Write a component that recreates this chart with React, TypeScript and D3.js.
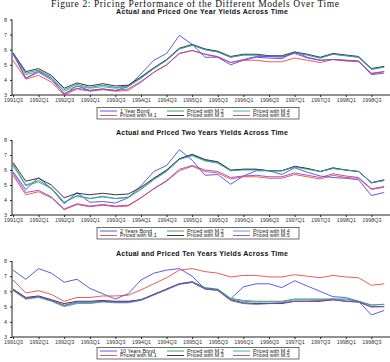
import React, { useEffect, useRef } from 'react'
import * as d3 from 'd3'

// quarters on the x axis
const quarters = [
  '1991Q3', '1991Q4',
  '1992Q1', '1992Q2', '1992Q3', '1992Q4',
  '1993Q1', '1993Q2', '1993Q3', '1993Q4',
  '1994Q1', '1994Q2', '1994Q3', '1994Q4',
  '1995Q1', '1995Q2', '1995Q3', '1995Q4',
  '1996Q1', '1996Q2', '1996Q3', '1996Q4',
  '1997Q1', '1997Q2', '1997Q3', '1997Q4',
  '1998Q1', '1998Q2', '1998Q3', '1998Q4',
]
const yTicks = [3, 4, 5, 6, 7, 8]
const modelNames = ['Priced with M.1', 'Priced with M.2', 'Priced with M.3', 'Priced with M.4', 'Priced with M.5']

// one year yields
const oneYearBond = [5.8, 4.1, 4.6, 4.1, 3.05, 3.6, 3.3, 3.4, 3.3, 3.55, 4.4, 5.3, 5.75, 6.95, 6.35, 5.5, 5.5, 5.0, 5.3, 5.5, 5.45, 5.4, 5.85, 5.5, 5.3, 5.35, 5.3, 5.25, 4.35, 4.45]
const oneYearM1 = [5.3, 4.05, 4.3, 3.85, 3.0, 3.4, 3.25, 3.35, 3.25, 3.3, 3.85, 4.5, 5.0, 5.75, 5.95, 5.7, 5.5, 5.15, 5.3, 5.3, 5.2, 5.2, 5.45, 5.3, 5.15, 5.35, 5.25, 5.2, 4.45, 4.55]
const oneYearM2 = [5.75, 4.45, 4.65, 4.2, 3.35, 3.7, 3.5, 3.65, 3.5, 3.6, 4.15, 4.75, 5.3, 6.05, 6.3, 6.0, 5.85, 5.5, 5.65, 5.65, 5.55, 5.55, 5.8, 5.65, 5.45, 5.7, 5.6, 5.5, 4.7, 4.85]
const oneYearM3 = [5.8, 4.55, 4.75, 4.3, 3.45, 3.8, 3.6, 3.75, 3.6, 3.65, 4.2, 4.8, 5.35, 6.1, 6.35, 6.05, 5.9, 5.55, 5.7, 5.7, 5.6, 5.6, 5.85, 5.7, 5.5, 5.75, 5.65, 5.55, 4.75, 4.9]
const oneYearM4 = [5.75, 4.35, 4.55, 4.1, 3.25, 3.6, 3.45, 3.55, 3.45, 3.55, 4.1, 4.75, 5.3, 6.05, 6.3, 6.0, 5.85, 5.5, 5.65, 5.65, 5.55, 5.55, 5.8, 5.65, 5.45, 5.7, 5.6, 5.5, 4.7, 4.85]
const oneYearM5 = [5.7, 4.12, 4.5, 4.0, 3.1, 3.45, 3.3, 3.4, 3.3, 3.4, 3.9, 4.5, 5.0, 5.75, 5.95, 5.7, 5.55, 5.15, 5.35, 5.55, 5.55, 5.5, 5.75, 5.45, 5.3, 5.35, 5.3, 5.25, 4.4, 4.55]

// two year yields
const twoYearBond = [5.9, 4.7, 5.5, 4.75, 3.75, 4.5, 3.85, 3.9, 3.8, 4.15, 4.95, 5.9, 6.3, 7.35, 6.65, 5.65, 5.7, 5.05, 5.6, 5.95, 5.95, 5.7, 6.15, 5.85, 5.6, 5.5, 5.45, 5.35, 4.3, 4.5]
const twoYearM1 = [5.65, 4.35, 4.55, 4.15, 3.35, 3.7, 3.55, 3.65, 3.55, 3.6, 4.15, 4.75, 5.25, 5.95, 6.25, 5.9, 5.8, 5.4, 5.55, 5.55, 5.45, 5.45, 5.7, 5.55, 5.4, 5.65, 5.5, 5.45, 4.7, 4.85]
const twoYearM2 = [6.4, 5.0, 5.3, 4.8, 3.85, 4.3, 4.1, 4.25, 4.1, 4.2, 4.75, 5.4, 5.95, 6.75, 7.0, 6.65, 6.5, 5.95, 6.05, 6.05, 5.95, 5.95, 6.2, 6.1, 5.9, 6.1, 6.0, 5.9, 5.15, 5.3]
const twoYearM3 = [6.5, 5.25, 5.45, 5.0, 4.15, 4.45, 4.35, 4.45, 4.35, 4.4, 4.85, 5.45, 6.0, 6.75, 7.05, 6.7, 6.55, 6.0, 6.05, 6.05, 5.95, 5.95, 6.25, 6.1, 5.9, 6.15, 6.0, 5.9, 5.15, 5.35]
const twoYearM4 = [6.3, 4.95, 5.2, 4.75, 3.85, 4.25, 4.1, 4.2, 4.1, 4.15, 4.7, 5.35, 5.9, 6.7, 6.95, 6.6, 6.45, 5.95, 6.0, 6.0, 5.95, 5.95, 6.2, 6.05, 5.9, 6.1, 6.0, 5.9, 5.15, 5.3]
const twoYearM5 = [5.8, 4.5, 4.65, 4.2, 3.4, 3.75, 3.6, 3.7, 3.6, 3.65, 4.15, 4.75, 5.3, 6.05, 6.3, 6.0, 5.9, 5.5, 5.6, 5.65, 5.55, 5.55, 5.8, 5.65, 5.5, 5.75, 5.6, 5.5, 4.75, 4.9]

// ten year yields
const tenYearBond = [7.4, 6.8, 7.5, 7.2, 6.6, 6.8, 6.2, 5.85, 5.5, 5.85, 6.75, 7.2, 7.4, 7.5, 7.0, 6.15, 6.1, 5.5, 6.3, 6.5, 6.5, 6.25, 6.7, 6.35, 6.0, 5.65, 5.6, 5.35, 4.45, 4.75]
const tenYearM1 = [6.75, 5.9, 6.05, 5.8, 5.35, 5.6, 5.6, 5.7, 5.7, 5.75, 6.1, 6.5, 6.9, 7.4, 7.5, 7.3, 7.2, 6.95, 7.05, 7.05, 6.95, 6.95, 7.1, 7.0, 6.9, 7.05, 6.95, 6.9, 6.4, 6.5]
const tenYearM2 = [6.1, 5.5, 5.65, 5.4, 5.05, 5.25, 5.25, 5.35, 5.3, 5.3, 5.45, 5.8, 6.15, 6.5, 6.65, 6.25, 6.15, 5.55, 5.4, 5.35, 5.35, 5.35, 5.5, 5.5, 5.5, 5.5, 5.5, 5.35, 5.1, 5.15]
const tenYearM3 = [6.15, 5.6, 5.7, 5.45, 5.2, 5.35, 5.35, 5.4, 5.35, 5.35, 5.45, 5.8, 6.15, 6.5, 6.6, 6.2, 6.1, 5.45, 5.25, 5.2, 5.2, 5.2, 5.35, 5.35, 5.35, 5.45, 5.35, 5.3, 4.98, 5.0]
const tenYearM4 = [6.05, 5.5, 5.6, 5.35, 5.0, 5.2, 5.2, 5.3, 5.25, 5.25, 5.4, 5.75, 6.1, 6.45, 6.6, 6.2, 6.1, 5.5, 5.35, 5.3, 5.3, 5.3, 5.45, 5.45, 5.45, 5.5, 5.45, 5.35, 5.1, 5.15]
const tenYearM5 = [6.1, 5.55, 5.65, 5.4, 5.1, 5.3, 5.3, 5.35, 5.3, 5.3, 5.45, 5.8, 6.15, 6.5, 6.6, 6.15, 6.05, 5.4, 5.2, 5.15, 5.2, 5.25, 5.35, 5.35, 5.4, 5.45, 5.35, 5.3, 5.0, 5.0]

// bond, M.1 ... M.5
const colors = ['#4848e8', '#e84a4a', '#2e9c40', '#1c1c40', '#3aa2b4', '#9a40c4']

const panels = [
  {
    title: 'Actual and Priced One Year Yields Across Time',
    bondName: '1 Year Bond',
    series: [oneYearBond, oneYearM1, oneYearM2, oneYearM3, oneYearM4, oneYearM5],
    top: 19.5, bottom: 95, titleY: 11.5, legendY: 107.5,
  },
  {
    title: 'Actual and Priced Two Years Yields Across Time',
    bondName: '2 Years Bond',
    series: [twoYearBond, twoYearM1, twoYearM2, twoYearM3, twoYearM4, twoYearM5],
    top: 140, bottom: 215, titleY: 133, legendY: 227.5,
  },
  {
    title: 'Actual and Priced Ten Years Yields Across Time',
    bondName: '10 Years Bond',
    series: [tenYearBond, tenYearM1, tenYearM2, tenYearM3, tenYearM4, tenYearM5],
    top: 261, bottom: 337, titleY: 254, legendY: 347.5,
  },
]

const W = 390
const H = 362
const axisX = 12
const font = '"Liberation Sans", Arial, sans-serif'

const drawPanel = (svg, panel) => {
  const x = d3.scalePoint().domain(quarters).range([13, 384.2])
  const y = d3.scaleLinear().domain([3, 8]).range([panel.bottom, panel.top])

  // panel heading
  svg
    .append('text')
    .attr('x', 202)
    .attr('y', panel.titleY)
    .attr('dy', '0.35em')
    .attr('text-anchor', 'middle')
    .attr('font-family', font)
    .attr('font-weight', 'bold')
    .attr('font-size', 7)
    .attr('textLength', 172)
    .attr('fill', '#111')
    .text(panel.title)

  // y axis
  const yAxis = svg
    .append('g')
    .attr('transform', `translate(${axisX}, 0)`)
    .call(d3.axisLeft(y).tickValues(yTicks).tickSize(2).tickPadding(3).tickFormat(d3.format('d')))
  yAxis.select('.domain').remove()
  yAxis.selectAll('text').attr('font-family', font).attr('font-size', 5.5).style('fill', '#333')
  yAxis.selectAll('line').style('stroke', '#222')

  // x axis
  const xAxis = svg
    .append('g')
    .attr('transform', `translate(0, ${panel.bottom})`)
    .call(
      d3
        .axisBottom(x)
        .tickValues(quarters.filter((_, i) => i % 2 === 0))
        .tickSize(2)
        .tickPadding(1.5)
    )
  xAxis.select('.domain').remove()
  xAxis.selectAll('text').attr('font-family', font).attr('font-size', 5.4).style('fill', '#333')
  xAxis.selectAll('line').style('stroke', '#222')

  svg
    .append('path')
    .attr('d', `M${axisX},${panel.top}V${panel.bottom}H${W}`)
    .attr('fill', 'none')
    .attr('stroke', '#222')
    .attr('stroke-width', 1)

  // yield series
  const line = d3
    .line<number>()
    .x((_, i) => x(quarters[i]))
    .y(d => y(d))

  panel.series.forEach((values, k) => {
    svg
      .append('path')
      .datum(values)
      .attr('d', line)
      .attr('fill', 'none')
      .attr('stroke', colors[k])
      .attr('stroke-width', 0.9)
  })

  // legend
  const names = [panel.bondName, ...modelNames]
  const lg = svg.append('g').attr('transform', `translate(97, ${panel.legendY})`)
  lg.append('rect')
    .attr('width', 202)
    .attr('height', 11.5)
    .attr('fill', 'white')
    .attr('stroke', '#333')
    .attr('stroke-width', 0.7)
  const colX = [3, 70, 136]
  names.forEach((name, k) => {
    const cx = colX[Math.floor(k / 2)]
    const cy = k % 2 === 0 ? 3.5 : 8
    lg.append('line')
      .attr('x1', cx)
      .attr('x2', cx + 17)
      .attr('y1', cy)
      .attr('y2', cy)
      .attr('stroke', colors[k])
      .attr('stroke-width', 0.9)
    lg.append('text')
      .attr('x', cx + 20)
      .attr('y', cy)
      .attr('dy', '0.35em')
      .attr('font-family', font)
      .attr('font-size', 5.4)
      .attr('fill', '#222')
      .text(name)
  })
}

const App = () => {
  const ref = useRef<SVGSVGElement>(null)

  useEffect(() => {
    const svg = d3.select(ref.current)
    svg.selectAll('*').remove()

    svg
      .append('text')
      .attr('x', 195)
      .attr('y', 7)
      .attr('text-anchor', 'middle')
      .attr('font-family', '"Liberation Serif", "Times New Roman", serif')
      .attr('font-size', 9.5)
      .attr('textLength', 288)
      .attr('fill', '#111')
      .text('Figure 2: Pricing Performance of the Different Models Over Time')

    panels.forEach(p => drawPanel(svg, p))
  }, [])

  return (
    <svg
      ref={ref}
      width={W}
      height={H}
      style={{ position: 'absolute', left: 0, top: 0, background: 'white' }}
    />
  )
}

export default App
